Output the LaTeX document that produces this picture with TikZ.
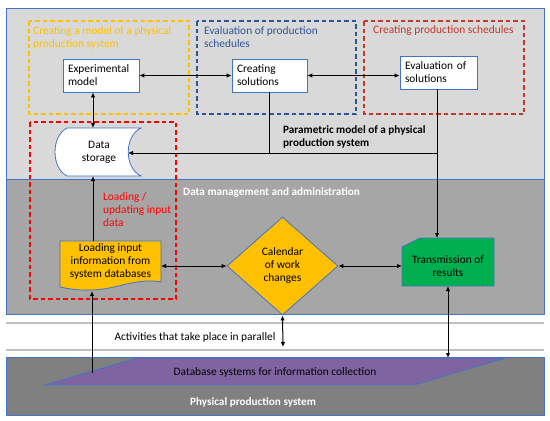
\documentclass[tikz,border=0pt]{standalone}
\usepackage{fontspec}
\setmainfont{Carlito}
\usetikzlibrary{shapes.geometric,arrows.meta,calc}
\definecolor{bord}{HTML}{4472C4}
\definecolor{lgray}{HTML}{D9D9D9}
\definecolor{mgray}{HTML}{A6A6A6}
\definecolor{dgray}{HTML}{808080}
\definecolor{sepgray}{HTML}{BFBFBF}
\definecolor{oyel}{HTML}{FFC000}
\definecolor{ogreen}{HTML}{00B050}
\definecolor{opurple}{HTML}{8064A2}
\definecolor{dblue}{HTML}{2F5597}
\definecolor{dred}{HTML}{C0392B}
\definecolor{bred}{HTML}{FF0000}
\begin{document}
\begin{tikzpicture}[x=1pt,y=-1pt,
  font=\fontsize{11.4}{13}\selectfont,
  bfont/.style={font=\fontsize{11.2}{13.5}\selectfont\bfseries},
  panel/.style={draw=bord, line width=0.8pt},
  wbox/.style={draw=bord, fill=white, line width=0.8pt, minimum height=33pt, align=left, inner xsep=5pt, inner ysep=2pt},
  dbox/.style={dash pattern=on 4.5pt off 3pt, line width=1.1pt},
  conn/.style={line width=1pt},
  arr/.style={conn, -{Latex[length=5pt,width=4.5pt]}},
  darr/.style={conn, {Latex[length=5pt,width=4.5pt]}-{Latex[length=5pt,width=4.5pt]}},
  lbl/.style={anchor=west, align=left, inner sep=0},
  plain/.style={inner sep=0, align=center}
]
\useasboundingbox (0,0) rectangle (550,421);
\fill[white] (0,0) rectangle (550,421);

% panels
\path[panel, fill=lgray] (6,8) rectangle (544,179);
\path[panel, fill=mgray] (6,179) rectangle (544,314);
\draw[sepgray, line width=1.2pt] (6,323) -- (544,323);
\draw[sepgray, line width=1.2pt] (6,350) -- (544,350);
\path[panel, fill=dgray] (6,357) rectangle (544,415);

% dashed groups
\draw[dbox, oyel] (29,21) rectangle (189,114);
\draw[dbox, dblue] (197,21) rectangle (356,114);
\draw[dbox, dred] (364,21) rectangle (524,114);
\draw[dbox, bred] (30,122) rectangle (176,299);

\node[lbl, text=oyel] (t1) at (33,37.5) {Creating a model of a physical\\production system};
\node[lbl, text=dblue] (t2) at (204,37.5) {Evaluation of production\\schedules};
\node[lbl, text=dred] (t3) at (373,31) {Creating production schedules};
\node[lbl, text=bred] (t4) at (103,210) {Loading /\\updating input\\data};
\node[lbl, bfont] (t5) at (283,137) {Parametric model of a physical\\production system};
\node[lbl, text=white, bfont] (t6) at (183,193) {Data management and administration};
\node[plain] (t7) at (195,337) {Activities that take place in parallel};
\node[plain, text=white, bfont] (t8) at (253,402) {Physical production system};

% top boxes
\node[wbox, minimum width=76pt, text width=66pt] (exp) at (101,75.5) {Experimental\\model};
\node[wbox, minimum width=75pt, text width=65pt] (cre) at (269.5,75.5) {Creating\\solutions};
\node[wbox, minimum width=77pt, text width=67pt] (eva) at (438.5,72.5) {Evaluation of\\solutions};

% data storage
\path[draw=bord, fill=white, line width=0.8pt]
  (67,128) -- (141,128) .. controls (124,136) and (124,168) .. (141,176)
  -- (67,176) .. controls (51,168) and (51,136) .. (67,128) -- cycle;
\node[plain] (ds) at (99,152) {Data\\storage};
\coordinate (dsin) at (128,153);

% loading input (document shape)
\path[draw=bord, fill=oyel, line width=0.8pt]
  (60,241) -- (161,241) -- (161,282) .. controls (128,276) and (110,298) .. (60,287) -- cycle;
\node[plain] (ld) at (110.5,261) {Loading input\\information from\\system databases};
\coordinate (ldtop) at (93,241);
\coordinate (ldbot) at (92,291);

% calendar diamond
\node[diamond, draw=bord, fill=oyel, line width=0.8pt, minimum width=111pt, minimum height=98pt, inner sep=0, align=center] (cal) at (282.5,266) {Calendar\\of work\\changes};

% transmission
\path[draw=bord, fill=ogreen, line width=0.8pt]
  (420,238) -- (494,238) -- (494,286) -- (402,286) -- (402,247) -- cycle;
\node[plain] (tr) at (448,266.5) {Transmission of\\results};
\coordinate (trn) at (437,238);
\coordinate (trw) at (402,266);
\coordinate (trs) at (448,286);

% database parallelogram
\path[draw=bord, fill=opurple, line width=0.8pt]
  (137,358) -- (505,358) -- (414,385) -- (45,385) -- cycle;
\node[plain] (db) at (275,372) {Database systems for information collection};
\coordinate (dbl) at (92,373);
\coordinate (dbr) at (448,358);
\coordinate (par) at (283,347);

% connectors
\coordinate (xa) at (93,0);
\draw[darr] (exp.east) -- (cre.west);
\draw[darr] (cre.east) -- (cre.east -| eva.west);
\draw[darr] (exp.south -| xa) -- (93,128);
\draw[conn] (cre.south) -- (cre.south |- dsin);
\draw[arr] (eva.south -| trn) |- (dsin);
\draw[arr] (eva.south -| trn) -- (trn);
\draw[arr] (ldtop) -- (93,176);
\draw[darr] (161,266) -- (cal.west);
\draw[darr] (cal.east) -- (trw);
\draw[arr] (dbl) -- (ldbot);
\draw[darr] (cal.south) -- (par);
\draw[darr] (trs) -- (dbr);
\end{tikzpicture}
\end{document}
